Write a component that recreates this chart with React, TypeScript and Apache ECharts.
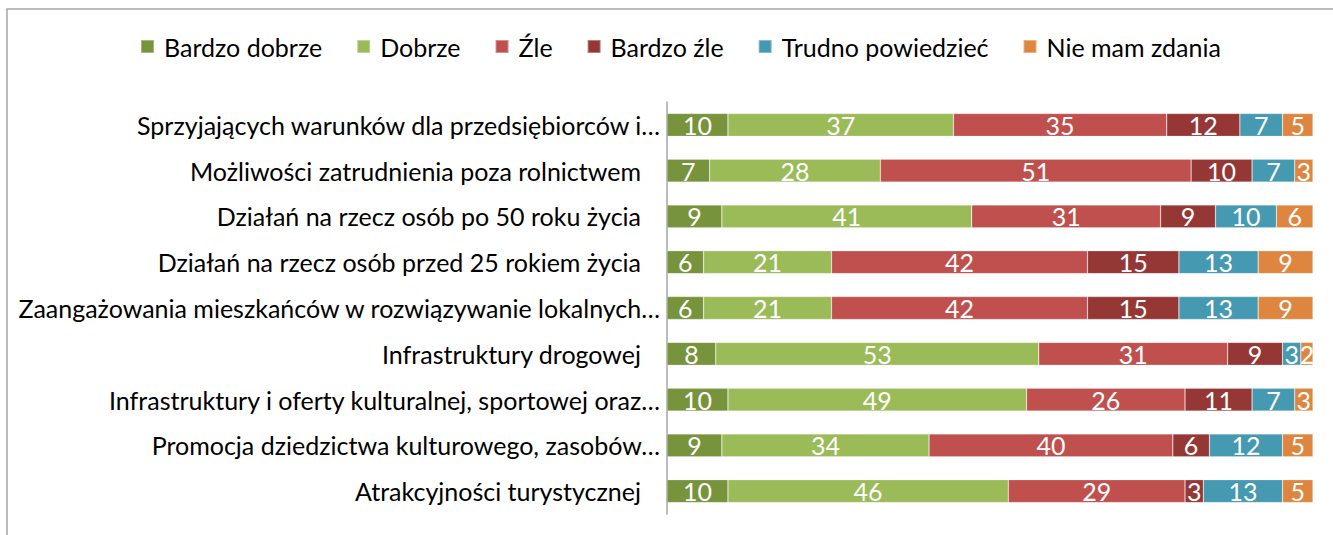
import React, { useEffect, useRef } from "react";
import * as echarts from "echarts";

const categories = [
  "Sprzyjających warunków dla przedsiębiorców i…",
  "Możliwości zatrudnienia poza rolnictwem",
  "Działań na rzecz osób po 50 roku życia",
  "Działań na rzecz osób przed 25 rokiem życia",
  "Zaangażowania mieszkańców w rozwiązywanie lokalnych…",
  "Infrastruktury drogowej",
  "Infrastruktury i oferty kulturalnej, sportowej oraz…",
  "Promocja dziedzictwa kulturowego, zasobów…",
  "Atrakcyjności turystycznej",
];

const seriesNames = [
  "Bardzo dobrze",
  "Dobrze",
  "Źle",
  "Bardzo źle",
  "Trudno powiedzieć",
  "Nie mam zdania",
];

const bardzoDobrze = [10, 7, 9, 6, 6, 8, 10, 9, 10];
const dobrze = [37, 28, 41, 21, 21, 53, 49, 34, 46];
const zle = [35, 51, 31, 42, 42, 31, 26, 40, 29];
const bardzoZle = [12, 10, 9, 15, 15, 9, 11, 6, 3];
const trudno = [7, 7, 10, 13, 13, 3, 7, 12, 13];
const nieMam = [5, 3, 6, 9, 9, 2, 3, 5, 5];

const seriesData = [bardzoDobrze, dobrze, zle, bardzoZle, trudno, nieMam];
const colors = ["#77933C", "#9BBB59", "#C0504D", "#953735", "#4599B1", "#DE8640"];

const FONT = "Lato, 'Noto Sans', sans-serif";
const FS = 25;

export default function App() {
  const ref = useRef<HTMLDivElement>(null);
  useEffect(() => {
    if (!ref.current) return;
    const chart = echarts.init(ref.current, null, { renderer: "svg" });
    const maxTotal = Math.max(
      ...categories.map((_, i) => seriesData.reduce((s, arr) => s + arr[i], 0))
    );
    chart.setOption({
      animation: false,
      backgroundColor: "#ffffff",
      textStyle: { fontFamily: FONT },
      graphic: [
        {
          type: "rect",
          shape: { x: 7, y: 9, width: 1400, height: 600 },
          style: { fill: "none", stroke: "#A6A6A6", lineWidth: 1.5 },
          silent: true,
        },
      ],
      legend: {
        top: 29,
        left: 135,
        icon: "rect",
        itemWidth: 13,
        itemHeight: 13,
        itemGap: 34,
        textStyle: { fontSize: FS, color: "#000", fontFamily: FONT, padding: [0, 0, 0, 5] },
        data: seriesNames,
      },
      grid: { left: 667, right: 20, top: 102, bottom: 21, containLabel: false },
      xAxis: {
        type: "value",
        min: 0,
        max: maxTotal,
        show: false,
      },
      yAxis: {
        type: "category",
        inverse: true,
        data: categories,
        axisLine: { show: true, lineStyle: { color: "#A6A6A6", width: 1.5 } },
        axisTick: { show: false },
        axisLabel: {
          margin: 7,
          color: "#000",
          fontSize: FS,
          fontFamily: FONT,
          formatter: (v: string) => (v.endsWith("…") ? `{a|${v}}` : `{b|${v}}`),
          rich: {
            a: { fontSize: FS, color: "#000", fontFamily: FONT },
            b: { fontSize: FS, color: "#000", fontFamily: FONT, padding: [0, 19, 0, 0] },
          },
        },
      },
      series: seriesNames.map((name, k) => ({
        name,
        type: "bar",
        stack: "total",
        barWidth: "50%",
        data: seriesData[k],
        itemStyle: { color: colors[k], borderColor: "rgba(255,255,255,0.35)", borderWidth: 0.6 },
        label: {
          show: true,
          position: "inside",
          color: "#fff",
          fontSize: FS,
          fontFamily: FONT,
        },
      })),
    });
    return () => chart.dispose();
  }, []);
  return (
    <div
      ref={ref}
      style={{ position: "fixed", left: 0, top: 0, width: 1333, height: 535 }}
    />
  );
}
